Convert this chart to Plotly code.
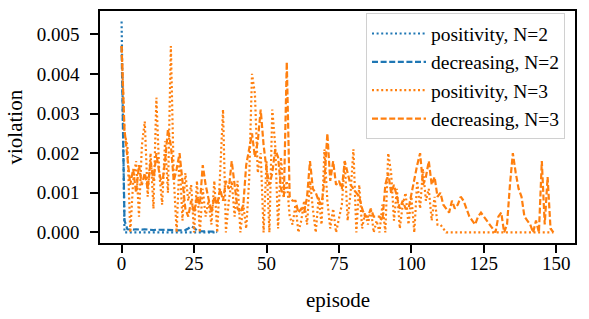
import plotly.graph_objects as go

# ---------------- data ----------------
episodes_n2 = list(range(34))
episodes_n3 = list(range(150))

positivity_n2 = [0.00532] + [0.0] * 33

decreasing_n2 = [0.0047, 0.0003, 0.00008, 0.00007, 0.00007, 0.00008, 0.00007, 0.00007,
                 0.00008, 0.00007, 0.00007, 0.00006, 0.00007, 0.00007, 0.00006, 0.00007,
                 0.00006, 0.00006, 0.00006, 0.00005, 0.00005, 0.00005, 0.00006, 0.00010,
                 0.00015, 0.00012, 0.00005, 0.00003, 0.00003, 0.00003, 0.00002, 0.00002,
                 0.00002, 0.00001]

positivity_n3 = [
    0.0047, 0.0025, 0.0022, 0.0000, 0.0013, 0.0018, 0.0004, 0.0022, 0.0028, 0.0009,
    0.0020, 0.0006, 0.0034, 0.0015, 0.0007, 0.0023, 0.0010, 0.0047, 0.0014, 0.0000,
    0.0019, 0.0003, 0.0015, 0.0008, 0.0012, 0.0000, 0.0013, 0.0000, 0.0011, 0.0004,
    0.0008, 0.0002, 0.0013, 0.0000, 0.0015, 0.0031, 0.0000, 0.0008, 0.0013, 0.0004,
    0.0013, 0.0000, 0.0007, 0.0001, 0.0013, 0.0040, 0.0035, 0.0015, 0.0020, 0.0000,
    0.0018, 0.0000, 0.0031, 0.0022, 0.0001, 0.0019, 0.0009, 0.0013, 0.0004, 0.0002,
    0.0007, 0.0000, 0.0003, 0.0008, 0.0002, 0.0013, 0.0006, 0.0000, 0.0009, 0.0002,
    0.0021, 0.0008, 0.0001, 0.0006, 0.0000, 0.0004, 0.0007, 0.0018, 0.0003, 0.0010,
    0.0021, 0.0000, 0.0012, 0.0001, 0.0005, 0.0002, 0.0006, 0.0000, 0.0003, 0.0000,
    0.0007, 0.0000, 0.0020, 0.0015, 0.0003, 0.0011, 0.0001, 0.0007, 0.0010, 0.0002,
    0.0009, 0.0000, 0.0013, 0.0006, 0.0016, 0.0008, 0.0011, 0.0003, 0.0009, 0.0002,
    0.0002, 0.0001, 0.0000, 0.0000, 0.0000, 0.0000, 0.0000, 0.0000, 0.0000, 0.0000,
    0.0000, 0.0000, 0.0000, 0.0000, 0.0000, 0.0000, 0.0000, 0.0000, 0.0000, 0.0000,
    0.0000, 0.0000, 0.0000, 0.0000, 0.0000, 0.0000, 0.0000, 0.0000, 0.0000, 0.0000,
    0.0000, 0.0000, 0.0000, 0.0000, 0.0000, 0.0000, 0.0000, 0.0000, 0.0000, 0.0000,
]

decreasing_n3 = [
    0.0047, 0.0026, 0.0019, 0.0012, 0.0016, 0.0010, 0.0017, 0.0012, 0.0015, 0.0011,
    0.0018, 0.0013, 0.0020, 0.0015, 0.0012, 0.0018, 0.0026, 0.0022, 0.0013, 0.0016,
    0.0020, 0.0013, 0.0006, 0.0004, 0.0008, 0.0005, 0.0009, 0.0007, 0.0017, 0.0012,
    0.0008, 0.0005, 0.0009, 0.0007, 0.0011, 0.0008, 0.0013, 0.0011, 0.0018, 0.0012,
    0.0006, 0.0005, 0.0007, 0.0017, 0.0021, 0.0025, 0.0019, 0.0023, 0.0031, 0.0022,
    0.0016, 0.0012, 0.0015, 0.0021, 0.0019, 0.0011, 0.0009, 0.0043, 0.0009, 0.0008,
    0.0008, 0.0005, 0.0006, 0.0005, 0.0009, 0.0018, 0.0011, 0.0010, 0.0008, 0.0007,
    0.0013, 0.0025, 0.0013, 0.0018, 0.0012, 0.0013, 0.0011, 0.0018, 0.0015, 0.0012,
    0.0011, 0.0010, 0.0009, 0.0006, 0.0004, 0.0004, 0.0006, 0.0004, 0.0004, 0.0004,
    0.0003, 0.0012, 0.0015, 0.0010, 0.0012, 0.0009, 0.0006, 0.0008, 0.0006, 0.0006,
    0.0010, 0.0014, 0.0017, 0.0020, 0.0012, 0.0014, 0.0018, 0.0012, 0.0014, 0.0009,
    0.0010, 0.0007, 0.0006, 0.0005, 0.0008, 0.0006, 0.0007, 0.0009, 0.0008, 0.0006,
    0.0004, 0.0003, 0.0002, 0.0004, 0.0005, 0.0004, 0.0003, 0.0002, 0.0001, 0.0000,
    0.0004, 0.0005, 0.0000, 0.0002, 0.0012, 0.0020, 0.0015, 0.0011, 0.0009, 0.0004,
    0.0003, 0.0002, 0.0000, 0.0003, 0.0000, 0.0018, 0.0002, 0.0014, 0.0001, 0.0000,
]

x_ticks = [0, 25, 50, 75, 100, 125, 150]
y_ticks = [0.000, 0.001, 0.002, 0.003, 0.004, 0.005]
y_tick_labels = ["0.000", "0.001", "0.002", "0.003", "0.004", "0.005"]
x_title = "episode"
y_title = "violation"

# ---------------- styles ----------------
BLUE = "#1f77b4"
ORANGE = "#ff7f0e"
DOT = "2px,2.6px"
DASH = "6px,2.6px"
LW = 2.2
FONT = "Liberation Serif, Times New Roman, serif"

fig = go.Figure()
fig.add_trace(go.Scatter(x=episodes_n2, y=positivity_n2, mode="lines",
                         name="positivity, N=2",
                         line=dict(color=BLUE, width=LW, dash=DOT)))
fig.add_trace(go.Scatter(x=episodes_n2, y=decreasing_n2, mode="lines",
                         name="decreasing, N=2",
                         line=dict(color=BLUE, width=LW, dash=DASH)))
fig.add_trace(go.Scatter(x=episodes_n3, y=positivity_n3, mode="lines",
                         name="positivity, N=3",
                         line=dict(color=ORANGE, width=LW, dash=DOT)))
fig.add_trace(go.Scatter(x=episodes_n3, y=decreasing_n3, mode="lines",
                         name="decreasing, N=3",
                         line=dict(color=ORANGE, width=LW, dash=DASH)))

fig.update_layout(
    width=589, height=319,
    margin=dict(l=100, r=14, t=11, b=76, autoexpand=False),
    paper_bgcolor="white", plot_bgcolor="white",
    font=dict(family=FONT, color="black", size=19),
    showlegend=True,
    legend=dict(
        x=0.979, y=0.99, xanchor="right", yanchor="top",
        bgcolor="rgba(255,255,255,0.85)", bordercolor="#d0d0d0", borderwidth=1,
        font=dict(family=FONT, size=19.5, color="black"),
        itemwidth=54, tracegroupgap=0,
    ),
    xaxis=dict(
        range=[-7.45, 156.45], tickvals=x_ticks, automargin=False,
        showgrid=False, zeroline=False,
        showline=True, mirror=True, linecolor="black", linewidth=1.6,
        ticks="outside", ticklen=8, tickwidth=1.6, tickcolor="black",
        ticklabelstandoff=-6,
        tickfont=dict(family=FONT, size=19),
    ),
    yaxis=dict(
        range=[-0.000266, 0.005586], tickvals=y_ticks, ticktext=y_tick_labels,
        automargin=False,
        showgrid=False, zeroline=False,
        showline=True, mirror=True, linecolor="black", linewidth=1.6,
        ticks="outside", ticklen=8, tickwidth=1.6, tickcolor="black",
        ticklabelstandoff=7,
        tickfont=dict(family=FONT, size=19),
    ),
    annotations=[
        dict(text=x_title, xref="paper", yref="paper", x=0.5, y=-0.245,
             xanchor="center", yanchor="middle", showarrow=False,
             font=dict(family=FONT, size=21)),
        dict(text=y_title, xref="paper", yref="paper", x=-0.18, y=0.5,
             xanchor="center", yanchor="middle", textangle=-90, showarrow=False,
             font=dict(family=FONT, size=21)),
    ],
)

fig.write_html("out.html", config={"displayModeBar": False},
               post_script="document.body.style.margin='0';document.body.style.padding='0';")
